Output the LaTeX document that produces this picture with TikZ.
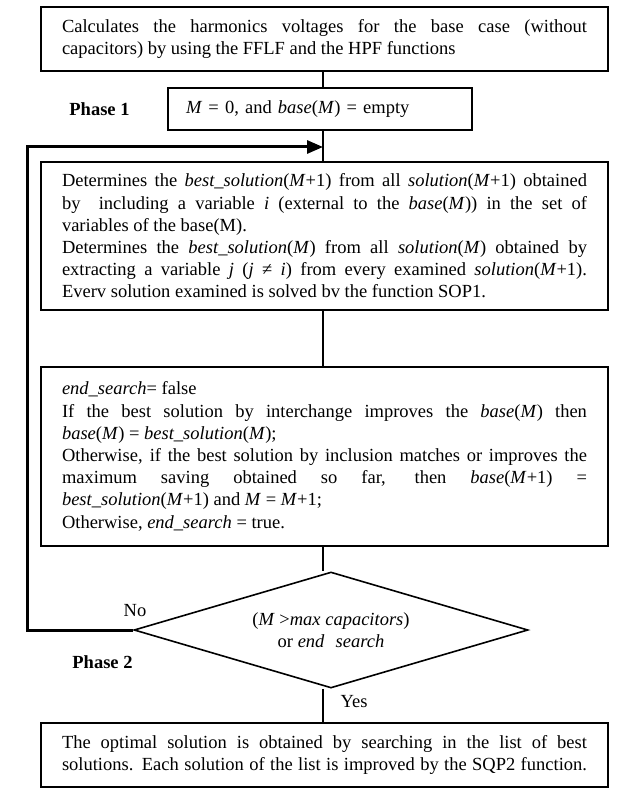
\documentclass[tikz,border=0pt]{standalone}
\usepackage{fontspec}
\setmainfont{Liberation Serif}
\usetikzlibrary{shapes.geometric,arrows.meta}
\setlength{\parindent}{0pt}
\tolerance=10000
\hbadness=10000
\begin{document}
\begin{tikzpicture}[x=1pt,y=-1pt,
  txt/.style={font=\fontsize{18.5}{22.2}\selectfont},
  wbox/.style={txt,draw,line width=2pt,minimum width=567pt,text width=525pt,
     inner xsep=21pt,align=justify},
  sbox/.style={txt,draw,line width=2pt,minimum width=304pt,minimum height=42pt,
     text width=268pt,inner xsep=18pt,align=left},
  dec/.style={txt,draw,line width=1.6pt,shape=diamond,shape aspect=3.4,
     minimum width=394pt,minimum height=116pt,inner sep=0pt,align=center},
  conn/.style={line width=2pt},
  loop/.style={line width=3pt,-{Triangle[length=16pt,width=13pt]}},
  lbl/.style={txt,inner sep=0pt},
  phase/.style={txt,font=\fontsize{18.5}{22.2}\selectfont\bfseries,inner sep=0pt}]
\useasboundingbox (0,0) rectangle (620,794);

\node[wbox,minimum height=63.5pt] (b1) at (324.5,39.25)
 {Calculates the harmonics voltages for the base case (without\linebreak
  capacitors) by using the FFLF and the HPF functions};

\node[sbox] (b2) at (320,109) {\textit{M} = 0, and \textit{base}(\textit{M}) = empty};
\node[phase] (p1) at (99.5,109) {Phase 1};

\node[wbox,minimum height=148pt] (b3) at (324.5,236)
 {Determines the \textit{best\_solution}(\textit{M}+1) from all \textit{solution}(\textit{M}+1) obtained\linebreak
  by\ \ including a variable \textit{i} (external to the \textit{base}(\textit{M})) in the set of\linebreak
  variables of the base(M).\par
  Determines the \textit{best\_solution}(\textit{M}) from all \textit{solution}(\textit{M}) obtained by\linebreak
  extracting a variable \textit{j} (\textit{j} ≠ \textit{i}) from every examined \textit{solution}(\textit{M}+1).\linebreak
  Everv solution examined is solved bv the function SOP1.};

\node[wbox,minimum height=179pt] (b4) at (324.5,456.5)
 {\textit{end\_search}= false\par
  If the best solution by interchange improves the \textit{base}(\textit{M}) then\linebreak
  \textit{base}(\textit{M}) = \textit{best\_solution}(\textit{M});\par
  Otherwise, if the best solution by inclusion matches or improves the\linebreak
  maximum saving obtained so far, then \textit{base}(\textit{M}+1) =\linebreak
  \textit{best\_solution}(\textit{M}+1) and \textit{M} = \textit{M}+1;\par
  Otherwise, \textit{end\_search} = true.};

\node[dec] (d) at (331,630)
 {(\textit{M} >\textit{max capacitors})\\ or \textit{end}\hspace{0.6em}\textit{search}};

\node[wbox,minimum height=64pt] (b5) at (324.5,755)
 {The optimal solution is obtained by searching in the list of best\linebreak
  {\parfillskip=0pt solutions. Each solution of the list is improved by the SQP2 function.\par}};

\node[lbl] (no) at (135,611) {No};
\node[lbl] (yes) at (354,702) {Yes};
\node[phase] (p2) at (102.5,662) {Phase 2};

\coordinate (cx) at (323,0);
\coordinate (lb) at (27,630);
\coordinate (lt) at (27,147);
\coordinate (at) at (323,147);

\draw[conn] (b1.south -| cx) -- (b2.north -| cx);
\draw[conn] (b2.south -| cx) -- (b3.north -| cx);
\draw[conn] (b3.south -| cx) -- (b4.north -| cx);
\draw[conn] (b4.south -| cx) -- (d.north -| cx);
\draw[conn] (d.south -| cx) -- (b5.north -| cx);
\draw[loop] (d.west) -- (lb) -- (lt) -- (at);
\end{tikzpicture}
\end{document}
